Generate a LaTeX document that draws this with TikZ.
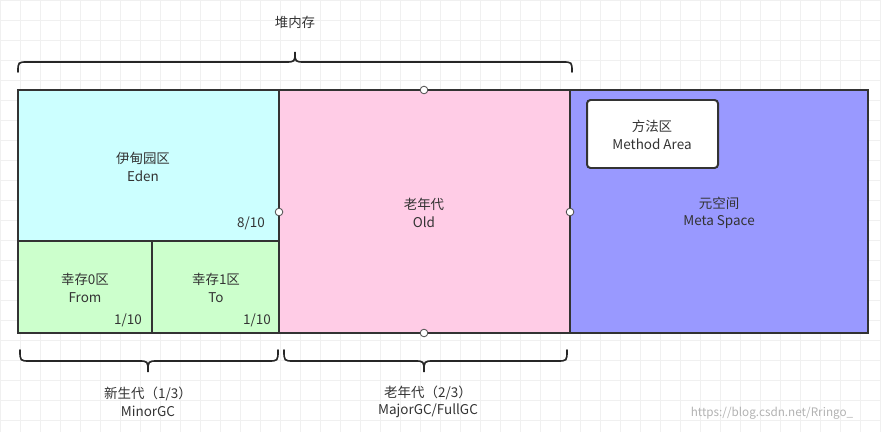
\documentclass[tikz,border=0pt]{standalone}
\usepackage{fontspec}
\setmainfont{Noto Sans CJK SC}
\begin{document}
\begin{tikzpicture}[x=0.03cm,y=-0.03cm,
  box/.style={draw=black!80,line width=1.7pt},
  lbl/.style={font=\fontsize{11.5}{15}\selectfont,text=black!80,align=center},
  brace/.style={draw=black!85,line width=1.4pt,line cap=round},
  dot/.style={circle,draw=black!70,fill=white,inner sep=0pt,minimum size=6.5pt,line width=0.7pt}]
\useasboundingbox (0,0) rectangle (881,432);
\foreach \i in {0,20,...,880} \draw[black!6,line width=0.3pt] (\i,0) -- (\i,432);
\foreach \j in {0,20,...,432} \draw[black!6,line width=0.3pt] (0,\j) -- (881,\j);
\draw[box,fill={rgb,255:red,204;green,255;blue,255}] (18,90) rectangle (279,241);
\draw[box,fill={rgb,255:red,204;green,255;blue,204}] (18,241) rectangle (152,333);
\draw[box,fill={rgb,255:red,204;green,255;blue,204}] (152,241) rectangle (279,333);
\draw[box,fill={rgb,255:red,255;green,204;blue,230}] (279,90) rectangle (570,333);
\draw[box,fill={rgb,255:red,153;green,153;blue,255}] (570,90) rectangle (868,333);
\draw[box,fill=white,rounded corners=3pt] (587,100) rectangle (718,168);
\node[lbl] (eden) at (143,167) {伊甸园区\\Eden};
\node[lbl] (e8) at (251,223) {8/10};
\node[lbl] (from) at (85,288) {幸存0区\\From};
\node[lbl] (f1) at (128,320) {1/10};
\node[lbl] (to) at (216,288) {幸存1区\\To};
\node[lbl] (t1) at (257,320) {1/10};
\node[lbl] (old) at (424,213) {老年代\\Old};
\node[lbl] (meta) at (719,213) {元空间\\Meta Space};
\node[lbl] (ma) at (652,135) {方法区\\Method Area};
\node[dot] (d1) at (424,90) {};
\node[dot] (d2) at (279,212) {};
\node[dot] (d3) at (570,212) {};
\node[dot] (d4) at (424,333) {};
\draw[brace] (18,72) .. controls (18,62) .. (28,62) -- (285,62) .. controls (295,62) .. (295,52) .. controls (295,62) .. (305,62) -- (562,62) .. controls (572,62) .. (572,72);
\node[lbl] (heap) at (295,22) {堆内存};
\draw[brace] (20,350) .. controls (20,361) .. (30,361) -- (138,361) .. controls (148,361) .. (148,372) .. controls (148,361) .. (158,361) -- (268,361) .. controls (278,361) .. (278,350);
\draw[brace] (284,350) .. controls (284,361) .. (294,361) -- (414,361) .. controls (424,361) .. (424,372) .. controls (424,361) .. (434,361) -- (557,361) .. controls (567,361) .. (567,350);
\node[lbl] (young) at (148,402) {新生代（1/3）\\MinorGC};
\node[lbl] (oldg) at (428,402) {老年代（2/3）\\MajorGC/FullGC};
\node[font=\fontsize{10}{12}\selectfont,text=black!30] (wm) at (772,413) {https://blog.csdn.net/Rringo\_};
\end{tikzpicture}
\end{document}
